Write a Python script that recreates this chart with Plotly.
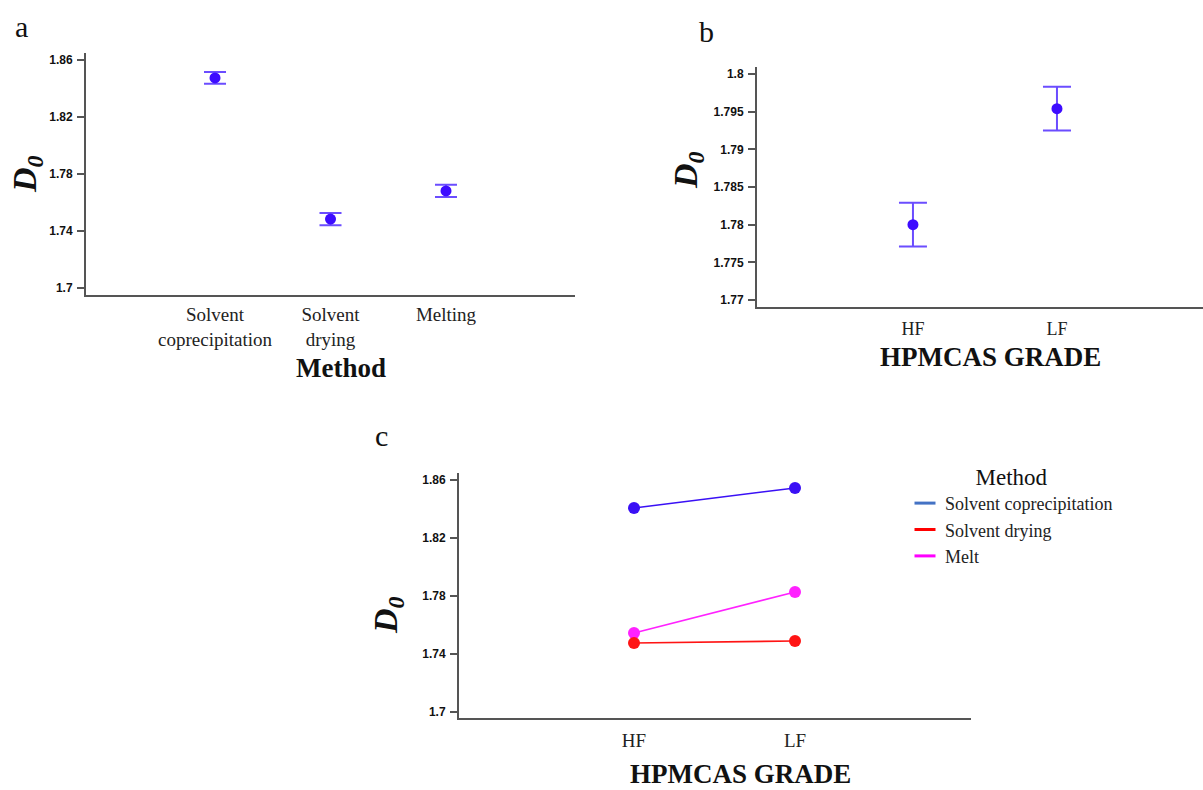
import plotly.graph_objects as go

W, H = 1203, 790

# ---------------- data ----------------
methods_a = ["Solvent<br>coprecipitation", "Solvent<br>drying", "Melting"]
d0_a = [1.8474, 1.7484, 1.7681]
err_a = [0.0041, 0.0043, 0.0043]

grades = ["HF", "LF"]
d0_b = [1.7800, 1.7954]
err_b = [0.0029, 0.0029]

series_c = ["Solvent coprecipitation", "Solvent drying", "Melt"]
d0_c_coprec = [1.8407, 1.8545]
d0_c_drying = [1.7476, 1.7490]
d0_c_melt = [1.7545, 1.7828]

yticks_ac = [1.7, 1.74, 1.78, 1.82, 1.86]
yticktext_ac = ["1.7", "1.74", "1.78", "1.82", "1.86"]
yticks_b = [1.77, 1.775, 1.78, 1.785, 1.79, 1.795, 1.8]
yticktext_b = ["1.77", "1.775", "1.78", "1.785", "1.79", "1.795", "1.8"]

# ---------------- style ----------------
PT = "#3d0cff"
ERR = "#6b4dff"
COL_C = {"Solvent coprecipitation": "#3a10f5", "Solvent drying": "#ff1414", "Melt": "#ff22ff"}
LEG_C = {"Solvent coprecipitation": "#4472c4", "Solvent drying": "#ff0000", "Melt": "#ff00ff"}
SERIF = "Liberation Serif"
SANS = "Liberation Sans"
AX = "#555555"

fig = go.Figure()

# panel a
fig.add_trace(go.Scatter(
    x=methods_a, y=d0_a, mode="markers", xaxis="x", yaxis="y",
    marker=dict(color=PT, size=11),
    error_y=dict(type="data", array=err_a, color=ERR, thickness=2, width=11),
    showlegend=False))

# panel b
fig.add_trace(go.Scatter(
    x=grades, y=d0_b, mode="markers", xaxis="x2", yaxis="y2",
    marker=dict(color=PT, size=11),
    error_y=dict(type="data", array=err_b, color=ERR, thickness=2, width=14),
    showlegend=False))

# panel c
for name, vals in [("Solvent coprecipitation", d0_c_coprec), ("Melt", d0_c_melt),
                   ("Solvent drying", d0_c_drying)]:
    fig.add_trace(go.Scatter(
        x=grades, y=vals, mode="lines+markers", xaxis="x3", yaxis="y3",
        line=dict(color=COL_C[name], width=1.6),
        marker=dict(color=COL_C[name], size=12),
        showlegend=False, name=name))

# legend entries (short dashes like the reference)
for name in series_c:
    fig.add_trace(go.Scatter(
        x=[None], y=[None], mode="markers", xaxis="x3", yaxis="y3", name=name,
        marker=dict(symbol="line-ew", size=15, line=dict(color=LEG_C[name], width=3))))

ytick_font = dict(family=SANS, size=12, color="#111", weight="bold")

def yax(dom, rng, vals, text, anchor):
    return dict(domain=dom, range=rng, tickvals=vals, ticktext=text, anchor=anchor,
                showline=True, linecolor=AX, linewidth=2, ticks="outside", ticklen=7,
                tickwidth=2, tickcolor=AX, showgrid=False, zeroline=False,
                tickfont=ytick_font, ticklabelstandoff=2)

def xax(dom, rng, anchor, fsize=19, standoff=1):
    return dict(domain=dom, range=rng, anchor=anchor, type="category",
                showline=True, linecolor=AX, linewidth=2, ticks="", showgrid=False,
                zeroline=False, tickfont=dict(family=SERIF, size=fsize, color="#222"),
                ticklabelstandoff=standoff)

fig.update_layout(
    width=W, height=H, margin=dict(l=0, r=0, t=0, b=0),
    paper_bgcolor="white", plot_bgcolor="white",
    xaxis=xax([86 / W, 575 / W], [-1.117, 3.117], "y"),
    yaxis=yax([1 - 295 / H, 1 - 53 / H], [1.6951, 1.8649], yticks_ac, yticktext_ac, "x"),
    xaxis2=xax([757 / W, 1.0], [-1.083, 2.014], "y2", 18, 4),
    yaxis2=yax([1 - 307 / H, 1 - 67 / H], [1.76907, 1.80093], yticks_b, yticktext_b, "x2"),
    xaxis3=xax([459 / W, 971 / W], [-1.087, 2.093], "y3", 19, 4),
    yaxis3=yax([1 - 718 / H, 1 - 473 / H], [1.6959, 1.8648], yticks_ac, yticktext_ac, "x3"),
    legend=dict(x=905 / W, y=1 - 455 / H, xanchor="left", yanchor="top",
                font=dict(family=SERIF, size=18, color="#222"),
                title=dict(text="Method", side="top center",
                           font=dict(family=SERIF, size=23, color="#111")),
                bgcolor="rgba(0,0,0,0)", itemwidth=30, tracegroupgap=0),
)

def ann(text, px, py, size, angle=0, color="#111"):
    fig.add_annotation(text=text, x=px / W, y=1 - py / H, xref="paper", yref="paper",
                       showarrow=False, textangle=angle, xanchor="center", yanchor="middle",
                       font=dict(family=SERIF, size=size, color=color))

# panel letters
ann("a", 21, 27, 30)
ann("b", 706, 32, 30)
ann("c", 381, 435, 30)

# axis titles
ann("<b>Method</b>", 341, 368, 27)
ann("<b>HPMCAS GRADE</b>", 990, 357, 27)
ann("<b>HPMCAS GRADE</b>", 740, 774, 27)
ann("<b><i>D<sub>0</sub></i></b>", 27, 174, 34, -90)
ann("<b><i>D<sub>0</sub></i></b>", 688, 170, 34, -90)
ann("<b><i>D<sub>0</sub></i></b>", 388, 615, 34, -90)

fig.write_html("out.html")
